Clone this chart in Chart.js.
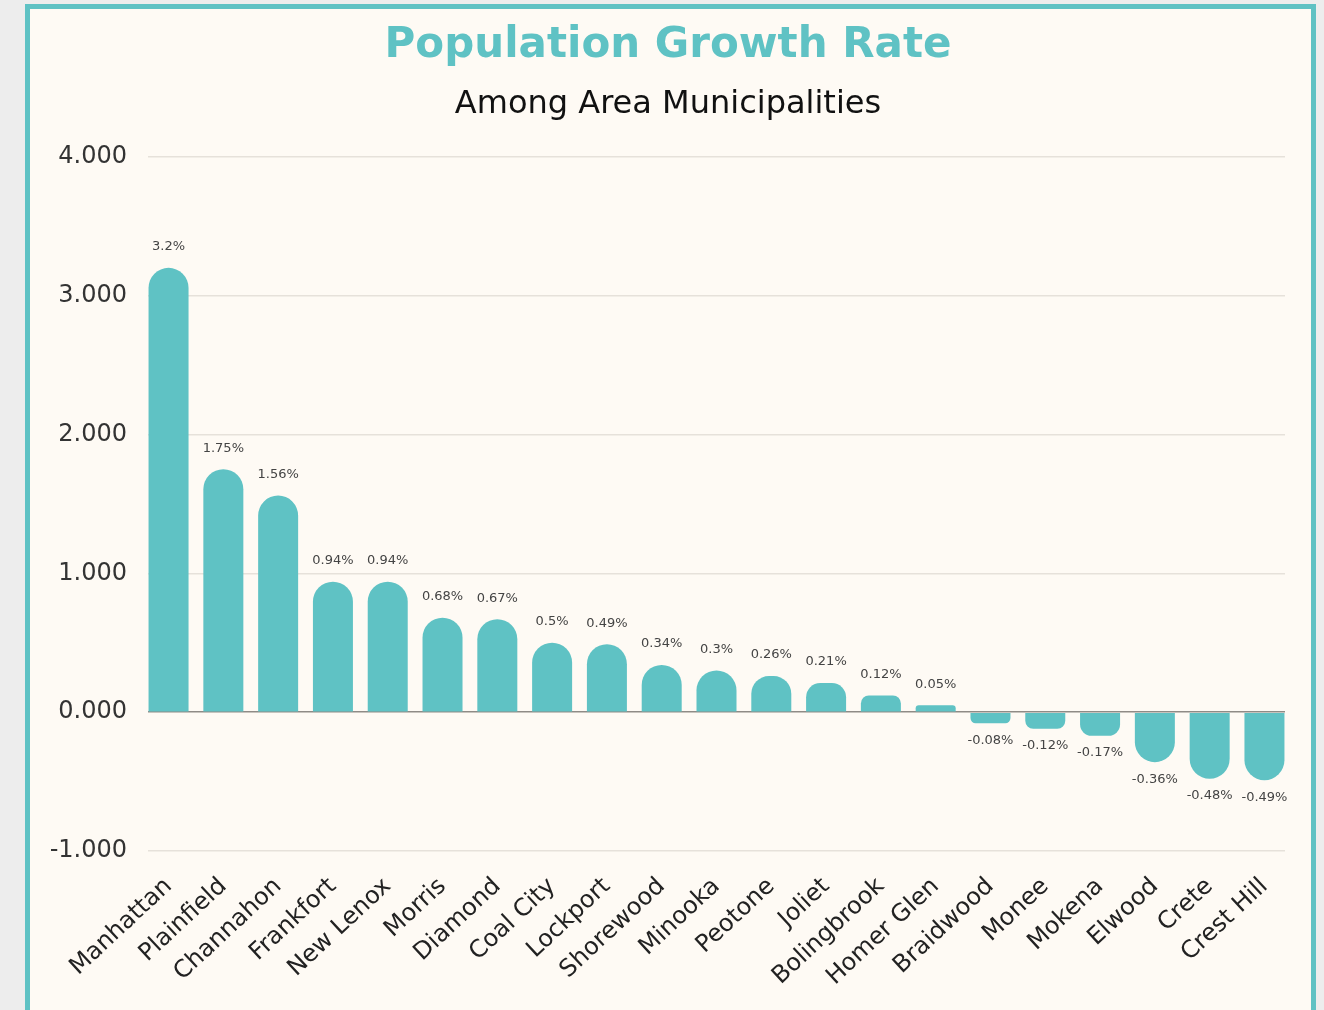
<!DOCTYPE html>
<html>
<head>
<meta charset="utf-8">
<script src="https://cdn.jsdelivr.net/npm/chart.js@4/dist/chart.umd.min.js"></script>
<style>
  html, body { margin: 0; padding: 0; overflow: hidden; }
  body { width: 1324px; height: 1010px; background: #ededed; position: relative; }
  .card {
    position: absolute; left: 25px; top: 4px;
    width: 1281px; height: 1100px;
    border: 5px solid #5fc2c4; background: #fefaf4;
  }
  #chart { position: absolute; left: 0; top: 0; }
</style>
</head>
<body>
<div class="card"></div>
<canvas id="chart" width="1324" height="1010"></canvas>
<script>
const towns = ['Manhattan', 'Plainfield', 'Channahon', 'Frankfort', 'New Lenox', 'Morris',
    'Diamond', 'Coal City', 'Lockport', 'Shorewood', 'Minooka', 'Peotone', 'Joliet',
    'Bolingbrook', 'Homer Glen', 'Braidwood', 'Monee', 'Mokena', 'Elwood', 'Crete', 'Crest Hill'];
const growth = [3.2, 1.75, 1.56, 0.94, 0.94, 0.68, 0.67, 0.5, 0.49, 0.34, 0.3, 0.26, 0.21,
    0.12, 0.05, -0.08, -0.12, -0.17, -0.36, -0.48, -0.49];
const yTicks = [-1, 0, 1, 2, 3, 4];

const teal = '#5fc2c4';
const font = '"DejaVu Sans", sans-serif';

// value labels over / under each bar
const barLabels = {
    id: 'barLabels',
    afterDatasetsDraw(chart) {
        const ctx = chart.ctx;
        const meta = chart.getDatasetMeta(0);
        ctx.save();
        ctx.font = '13px ' + font;
        ctx.fillStyle = '#444';
        ctx.textAlign = 'center';
        ctx.textBaseline = 'middle';
        meta.data.forEach((bar, i) => {
            const v = growth[i];
            const y = v >= 0 ? bar.y - 21 : bar.y + 17;
            ctx.fillText(v + '%', bar.x, y);
        });
        ctx.restore();
    }
};

new Chart(document.getElementById('chart'), {
    type: 'bar',
    data: {
        datasets: [{
            data: growth.map((v, i) => ({ x: i, y: v })),
            backgroundColor: teal,
            borderRadius: 20,
            borderSkipped: 'start',
            barPercentage: 0.73,
            categoryPercentage: 1
        }]
    },
    options: {
        responsive: false,
        animation: false,
        layout: { padding: { left: 51, right: 39, top: 0, bottom: 0 } },
        plugins: {
            legend: { display: false },
            tooltip: { enabled: false },
            title: {
                display: true,
                text: 'Population Growth Rate',
                color: teal,
                font: { family: font, size: 42, weight: 'bold' },
                padding: { top: 21, bottom: 0 }
            },
            subtitle: {
                display: true,
                text: 'Among Area Municipalities',
                color: '#111',
                font: { family: font, size: 32 },
                padding: { top: 14, bottom: 33 }
            }
        },
        scales: {
            x: {
                type: 'linear',
                offset: false,
                min: -0.375,
                max: towns.length - 1 + 0.375,
                afterBuildTicks: s => { s.ticks = towns.map((t, i) => ({ value: i })); },
                afterFit: s => { s.height = 159; },
                grid: { display: false },
                border: { display: false },
                ticks: {
                    autoSkip: false,
                    minRotation: 43,
                    maxRotation: 43,
                    padding: 8,
                    color: '#222',
                    font: { family: font, size: 24, lineHeight: 1.8 },
                    callback: v => towns[v]
                }
            },
            y: {
                min: -1,
                max: 4,
                afterBuildTicks: s => { s.ticks = yTicks.map(v => ({ value: v })); },
                afterFit: s => { s.width = 97; },
                border: { display: false },
                grid: {
                    drawTicks: false,
                    color: c => c.tick && c.tick.value === 0 ? '#8f8b86' : '#e6e1da',
                    lineWidth: 1.5
                },
                ticks: {
                    padding: 21,
                    color: '#333',
                    font: { family: font, size: 24 },
                    callback: v => v.toFixed(3)
                }
            }
        }
    },
    plugins: [barLabels]
});
</script>
</body>
</html>
